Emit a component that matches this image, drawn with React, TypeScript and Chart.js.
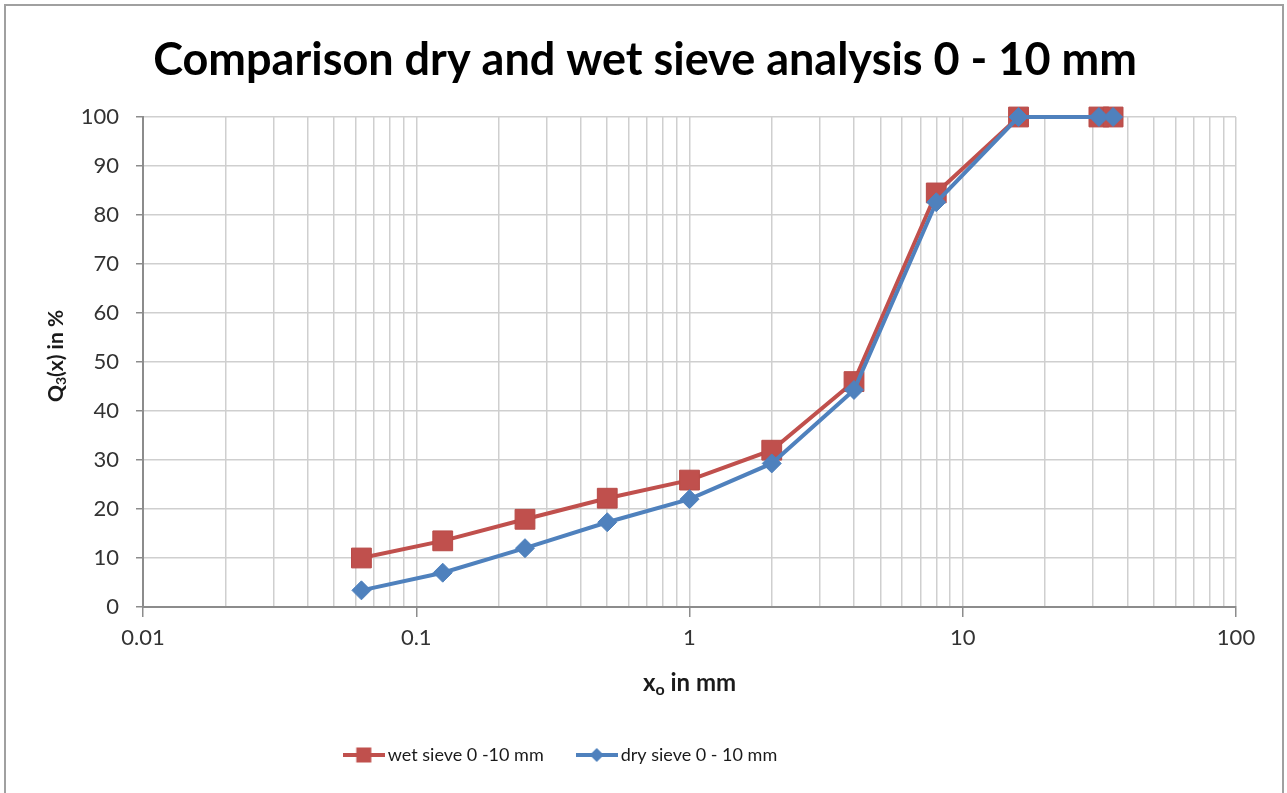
import React, { useEffect, useRef } from 'react';
import { Chart, registerables } from 'chart.js';

Chart.register(...registerables);

const sieveSizes = [0.063, 0.125, 0.25, 0.5, 1, 2, 4, 8, 16, 31.5, 35.5];
const wetSieve = [10, 13.5, 17.9, 22.2, 25.9, 32.0, 46.0, 84.5, 100, 100, 100];
const drySieve = [3.4, 7.0, 12.0, 17.3, 22.0, 29.3, 44.3, 82.6, 100, 100, 100];
const xDecades = [0.01, 0.1, 1, 10, 100];
const xTickLabels = ['0.01', '0.1', '1', '10', '100'];
const titleText = 'Comparison dry and wet sieve analysis 0 - 10 mm';
const legendLabels = ['wet sieve 0 -10 mm', 'dry sieve 0 - 10 mm'];

const RED = '#C0504D';
const BLUE = '#4F81BD';
const FONT = 'Lato, "Open Sans", sans-serif';

function makeIcon(color: string, kind: 'rect' | 'diamond'): HTMLCanvasElement {
  const c = document.createElement('canvas');
  c.width = 42;
  c.height = 20;
  const g = c.getContext('2d')!;
  g.strokeStyle = color;
  g.lineWidth = 4;
  g.beginPath();
  g.moveTo(0, 10);
  g.lineTo(42, 10);
  g.stroke();
  g.fillStyle = color;
  if (kind === 'rect') {
    g.fillRect(21 - 7.5, 10 - 7.5, 15, 15);
  } else {
    g.beginPath();
    g.moveTo(21, 3);
    g.lineTo(28, 10);
    g.lineTo(21, 17);
    g.lineTo(14, 10);
    g.closePath();
    g.fill();
  }
  return c;
}

function drawSubText(ctx: CanvasRenderingContext2D, a: string, sub: string, b: string, cx: number, cy: number, size: number) {
  const big = `bold ${size}px ${FONT}`;
  const small = `bold ${Math.round(size * 0.68)}px ${FONT}`;
  ctx.font = big;
  const wa = ctx.measureText(a).width;
  const wb = ctx.measureText(b).width;
  ctx.font = small;
  const ws = ctx.measureText(sub).width;
  const total = wa + ws + wb;
  let x = cx - total / 2;
  ctx.textBaseline = 'middle';
  ctx.textAlign = 'left';
  ctx.font = big;
  ctx.fillText(a, x, cy);
  x += wa;
  ctx.font = small;
  ctx.fillText(sub, x, cy + size * 0.28);
  x += ws;
  ctx.font = big;
  ctx.fillText(b, x, cy);
}

const axisTitlesPlugin = {
  id: 'axisTitlesSub',
  afterDraw(chart: any) {
    const ctx = chart.ctx as CanvasRenderingContext2D;
    const a = chart.chartArea;
    ctx.save();
    ctx.fillStyle = '#1a1a1a';
    drawSubText(ctx, 'x', 'o', ' in mm', (a.left + a.right) / 2, a.bottom + 76, 24);
    ctx.translate(56, (a.top + a.bottom) / 2 - 6);
    ctx.rotate(-Math.PI / 2);
    drawSubText(ctx, 'Q', '3', '(x) in %', 0, 0, 21);
    ctx.restore();
  },
};

const boxShiftPlugin = {
  id: 'boxShift',
  afterLayout(chart: any) {
    const lg = chart.legend;
    if (lg) {
      lg.left -= 55;
      lg.right -= 55;
    }
    const tb = chart.titleBlock;
    if (tb) {
      tb.left += 27;
      tb.right += 27;
    }
  },
};

export default function App() {
  const ref = useRef<HTMLCanvasElement | null>(null);

  useEffect(() => {
    if (!ref.current) return;
    const icons = [makeIcon(RED, 'rect'), makeIcon(BLUE, 'diamond')];
    const allTicks: number[] = [];
    for (let d = 0; d < xDecades.length - 1; d++) {
      for (let m = 1; m <= 9; m++) allTicks.push(Number((m * xDecades[d]).toPrecision(3)));
    }
    allTicks.push(xDecades[xDecades.length - 1]);
    const isMajor = (v: number) => xDecades.some((d) => Math.abs(d - v) < d * 1e-6);

    const chart = new Chart(ref.current, {
      type: 'line',
      data: {
        datasets: [
          {
            label: legendLabels[0],
            data: sieveSizes.map((x, i) => ({ x, y: wetSieve[i] })),
            borderColor: RED,
            backgroundColor: RED,
            borderWidth: 4,
            pointStyle: 'rect',
            pointRadius: 14,
            pointBorderWidth: 1,
            pointBackgroundColor: RED,
            pointBorderColor: '#b84a47',
            order: 2,
            clip: false,
          },
          {
            label: legendLabels[1],
            data: sieveSizes.map((x, i) => ({ x, y: drySieve[i] })),
            borderColor: BLUE,
            backgroundColor: BLUE,
            borderWidth: 4,
            pointStyle: 'rectRot',
            pointRadius: 9.5,
            pointBorderWidth: 1,
            pointBackgroundColor: BLUE,
            pointBorderColor: BLUE,
            order: 1,
            clip: false,
          },
        ],
      },
      options: {
        responsive: false,
        animation: false,
        layout: { padding: { left: 0, right: 51, top: 0, bottom: 19 } },
        plugins: {
          title: {
            display: true,
            text: titleText,
            color: '#000',
            font: { family: FONT, size: 45, weight: 'bold' },
            padding: { top: 33, bottom: 30 },
          },
          legend: {
            display: true,
            position: 'bottom',
            labels: {
              usePointStyle: true,
              pointStyleWidth: 30,
              boxHeight: 20,
              padding: 38,
              color: '#1a1a1a',
              font: { family: FONT, size: 18 },
              generateLabels: (ch: any) => {
                const items = Chart.defaults.plugins.legend.labels.generateLabels(ch);
                return items
                  .sort((p: any, q: any) => p.datasetIndex - q.datasetIndex)
                  .map((it: any) => ({ ...it, pointStyle: icons[it.datasetIndex] }));
              },
            },
          },
          tooltip: { enabled: false },
        },
        scales: {
          x: {
            type: 'logarithmic',
            min: 0.01,
            max: 100,
            afterBuildTicks: (scale: any) => {
              scale.ticks = allTicks.map((v) => ({ value: v, major: isMajor(v) }));
            },
            afterFit: (scale: any) => {
              scale.height = 101;
            },
            ticks: {
              autoSkip: false,
              maxRotation: 0,
              padding: 8,
              color: '#333',
              font: { family: FONT, size: 22 },
              callback: (v: any) => {
                const idx = xDecades.findIndex((d) => Math.abs(d - Number(v)) < d * 1e-6);
                return idx >= 0 ? xTickLabels[idx] : '';
              },
            },
            grid: {
              color: '#cfcfcf',
              lineWidth: 1.5,
              tickLength: 10,
              tickColor: (ctx: any) => (ctx.tick && isMajor(ctx.tick.value) ? '#8c8c8c' : 'rgba(0,0,0,0)'),
            },
            border: { color: '#8c8c8c', width: 2 },
          },
          y: {
            min: 0,
            max: 100,
            afterFit: (scale: any) => {
              scale.width = 143;
            },
            ticks: {
              stepSize: 10,
              padding: 17,
              color: '#333',
              font: { family: FONT, size: 22 },
            },
            grid: {
              color: '#cfcfcf',
              lineWidth: 1.5,
              tickLength: 7,
              tickColor: '#8c8c8c',
            },
            border: { color: '#8c8c8c', width: 2 },
          },
        },
      },
      plugins: [axisTitlesPlugin, boxShiftPlugin],
    } as any);
    return () => chart.destroy();
  }, []);

  return (
    <div style={{ position: 'fixed', left: 0, top: 0, width: 1287, height: 793, background: '#fff', overflow: 'hidden' }}>
      <canvas ref={ref} width={1287} height={793} style={{ position: 'absolute', left: 0, top: 0, width: 1287, height: 793 }} />
      <div
        style={{
          position: 'absolute',
          left: 4,
          top: 4,
          width: 1280,
          height: 800,
          boxSizing: 'border-box',
          border: '2px solid #a0a0a0',
          pointerEvents: 'none',
        }}
      />
    </div>
  );
}
